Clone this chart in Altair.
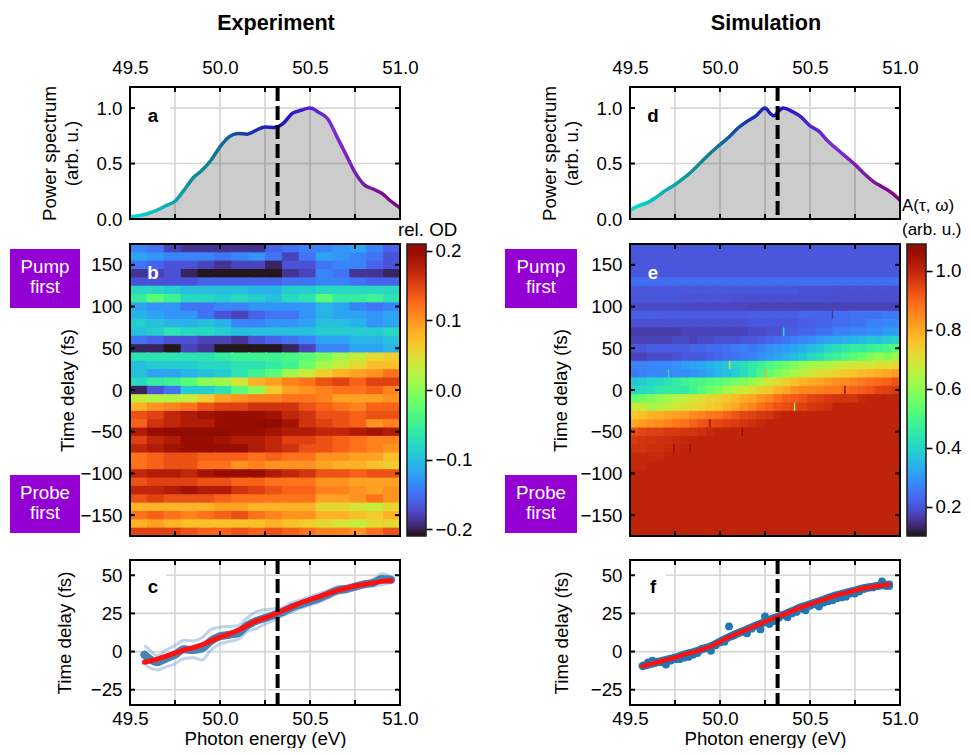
import numpy as np
import pandas as pd
import altair as alt

FONT = "Liberation Sans"
W = 270
H_TOP = 132
H_MAP = 292
H_BOT = 145
FS = 18.7

E_DOM = [49.5, 51.0]
TAU_DOM = [-175, 175]
E_TICKS = [49.75, 50.0, 50.25, 50.5, 50.75]
E_LABELS = [49.5, 50.0, 50.5, 51.0]
PS_TICKS = [0.5, 1.0]
TAU_TICKS = [-150, -100, -50, 0, 50, 100, 150]
DELAY_TICKS = [-25, 0, 25, 50]
CENTER = 50.32

# Spectra
spec_e = [49.5, 49.55, 49.6, 49.65, 49.7, 49.75, 49.8, 49.85, 49.9, 49.95, 50.0, 50.05, 50.1, 50.15, 50.2, 50.25,
          50.3, 50.35, 50.4, 50.45, 50.5, 50.55, 50.6, 50.65, 50.7, 50.75, 50.8, 50.85, 50.9, 50.95, 51.0]
spec_a = [.02, .03, .05, .08, .12, .16, .26, .37, .44, .53, .65, .74, .77, .765, .80, .83,
          .825, .86, .95, .98, 1.0, .96, .90, .74, .58, .42, .31, .27, .23, .16, .10]
sim_e = [49.5, 49.55, 49.6, 49.65, 49.7, 49.75, 49.8, 49.85, 49.9, 49.95, 50.0, 50.05, 50.1, 50.15, 50.2, 50.25,
         50.28, 50.3, 50.33, 50.35, 50.4, 50.45, 50.5, 50.55, 50.6, 50.65, 50.7, 50.75, 50.8, 50.85, 50.9, 50.95, 51.0]
spec_d = [.08, .12, .15, .20, .26, .31, .37, .44, .52, .60, .67, .74, .82, .88, .93, 1.0,
          .95, .93, .98, 1.0, .97, .92, .84, .79, .70, .63, .56, .49, .41, .34, .29, .24, .17]

# Panel c
c_e = [49.58, 49.6, 49.65, 49.7, 49.75, 49.8, 49.85, 49.9, 49.95, 50.0, 50.05, 50.1, 50.15, 50.2, 50.25, 50.3,
       50.35, 50.4, 50.45, 50.5, 50.55, 50.6, 50.65, 50.7, 50.75, 50.8, 50.85, 50.9, 50.95]
c_mean = [-2, -4, -7, -4.5, -2, 1.5, 1, 2, 7, 10, 11, 12, 17, 20, 22, 24, 26, 29, 31, 33, 35, 37.5, 40, 41, 42.5, 44, 45, 47.5, 47]
c_up = [4, 2, -2.5, 1, 4, 7.5, 7, 9, 14.5, 16, 16.5, 17, 22, 26, 27.5, 28, 29, 32, 34, 36, 38, 40, 42.5, 43, 44, 45.5, 47, 51, 49]
c_lo = [-7, -10, -12, -10, -8, -4.5, -4, -5.5, 1, 5, 6.5, 8, 13, 15, 18, 20.5, 23.5, 26, 28.5, 30.5, 32.5, 35, 38, 39, 41, 43, 43, 44, 45]
c_fit_e = [49.58, 49.65, 49.7, 49.75, 49.8, 49.85, 49.9, 49.95, 50.0, 50.05, 50.1, 50.15, 50.2, 50.25, 50.3, 50.35,
           50.4, 50.45, 50.5, 50.55, 50.6, 50.65, 50.7, 50.75, 50.8, 50.85, 50.9, 50.95]
c_fit = [-7, -5, -3, -1, 1, 2.5, 4.5, 7, 9.5, 11.5, 14, 17, 20, 22, 24.5, 27, 29.5, 32, 34, 36, 38, 40, 41.5, 43, 44, 45, 46, 46.5]

# Panel f
f_e = [49.575, 49.6, 49.625, 49.65, 49.675, 49.7, 49.725, 49.75, 49.775, 49.8, 49.825, 49.85, 49.875, 49.9, 49.925,
       49.95, 49.975, 50.0, 50.025, 50.05, 50.075, 50.1, 50.125, 50.15, 50.175, 50.2, 50.225, 50.25, 50.275, 50.3,
       50.325, 50.35, 50.375, 50.4, 50.425, 50.45, 50.475, 50.5, 50.525, 50.55, 50.575, 50.6, 50.625, 50.65, 50.675,
       50.7, 50.725, 50.75, 50.775, 50.8, 50.825, 50.85, 50.875, 50.9, 50.925, 50.94]
f_pts = [-9, -7, -6, -6.5, -7, -8.5, -6, -5, -5, -4, -3.5, -2, -1, 2, 2.5, 0.5, 4, 6, 6.5, 16.5, 10.5, 12, 13, 12,
         15, 17, 14.5, 23, 18, 20, 22, 24, 22.5, 25, 26, 28, 27, 30, 31, 29.5, 32, 33, 33.5, 35, 35.5, 36,
         38, 38, 39.5, 41, 42, 42, 43, 46, 43, 43]
f_fit_e = [49.57, 49.65, 49.7, 49.75, 49.8, 49.85, 49.9, 49.95, 50.0, 50.05, 50.1, 50.15, 50.2, 50.25, 50.3, 50.35,
           50.4, 50.45, 50.5, 50.55, 50.6, 50.65, 50.7, 50.75, 50.8, 50.85, 50.9, 50.94]
f_fit = [-9.5, -7, -5.5, -4, -2, -.5, 1.5, 3.5, 6.5, 9.5, 12, 14.5, 17, 19.5, 22, 24, 26.5, 29, 31, 33, 35, 37, 38.5, 40, 41.5, 42.5, 43.5, 44]

# Heat maps: rows from +170 fs to -170 fs across 49.5-51 eV (rows may hold 16 or 32 cells)
tau_rows = [170, 160, 150, 140, 130, 120, 110, 100, 90, 80, 70, 60, 50, 40, 30, 20, 10, 0, -10, -20, -30, -40, -50,
            -60, -70, -80, -90, -100, -110, -120, -130, -140, -150, -160, -170]
map_b = [
    [-.14, -.15, -.18, -.19, -.19, -.19, -.19, -.19, -.16, -.15, -.14, -.14, -.13, -.12, -.14, -.16],
    [-.12, -.13, -.14, -.14, -.14, -.15, -.14, -.13, -.15, -.18, -.15, -.12, -.13, -.14, -.15, -.17],
    [-.15, -.16, -.17, -.17, -.18, -.19, -.18, -.18, -.20, -.17, -.17, -.15, -.14, -.14, -.16, -.17],
    [-.19, -.18, -.17, -.20, -.21, -.21, -.21, -.21, -.21, -.19, -.18, -.14, -.15, -.19, -.19, -.20],
    [-.17, -.17, -.17, -.17, -.16, -.16, -.16, -.16, -.16, -.15, -.15, -.14, -.14, -.15, -.16, -.16],
    [-.08, -.08, -.09, -.10, -.10, -.10, -.10, -.11, -.11, -.09, -.09, -.08, -.08, -.08, -.08, -.08],
    [-.06, -.03, -.05, -.08, -.08, -.09, -.08, -.09, -.10, -.08, -.07, -.03, -.06, -.06, -.05, -.07],
    [-.12, -.13, -.13, -.15, -.15, -.14, -.14, -.13, -.13, -.13, -.13, -.11, -.12, -.14, -.15, -.14],
    [-.11, -.12, -.13, -.13, -.15, -.17, -.18, -.16, -.15, -.15, -.13, -.11, -.12, -.12, -.13, -.12],
    [-.09, -.10, -.11, -.11, -.10, -.11, -.14, -.14, -.13, -.13, -.12, -.10, -.10, -.11, -.13, -.12],
    [-.10, -.09, -.07, -.08, -.08, -.09, -.10, -.10, -.10, -.10, -.10, -.09, -.09, -.09, -.09, -.08],
    [-.15, -.16, -.17, -.17, -.18, -.18, -.19, -.17, -.16, -.15, -.14, -.12, -.12, -.11, -.11, -.10],
    [-.20, -.20, -.21, -.18, -.19, -.21, -.21, -.21, -.21, -.20, -.18, -.14, -.14, -.12, -.12, -.11],
    [-.07, -.07, -.07, -.07, -.07, -.06, -.05, -.05, -.05, -.04, -.03, -.01, .01, .03, .05, .06],
    [-.10, -.09, -.09, -.09, -.08, -.08, -.07, -.07, -.06, -.05, -.02, .01, .03, .05, .07, .07],
    [-.10, -.12, -.12, -.11, -.10, -.09, -.07, -.05, -.03, .01, .03, .06, .08, .09, .10, .12],
    [-.08, -.06, -.05, -.03, .00, .01, .04, .08, .09, .11, .12, .14, .15, .13, .15, .15],
    [-.20, -.17, -.15, -.09, -.09, -.07, -.03, .00, .06, .09, .10, .11, .12, .12, .13, .11],
    [.03, .02, .02, .03, .06, .09, .10, .11, .11, .12, .12, .11, .09, .09, .09, .10],
    [.08, .10, .11, .12, .14, .15, .15, .16, .16, .16, .14, .13, .12, .11, .13, .13],
    [.14, .15, .17, .18, .19, .20, .20, .20, .19, .17, .16, .14, .14, .13, .14, .14],
    [.13, .16, .17, .18, .18, .20, .20, .21, .21, .19, .16, .15, .14, .13, .10, .11],
    [.18, .20, .21, .21, .21, .21, .20, .20, .19, .18, .18, .17, .17, .18, .19, .18],
    [.15, .17, .18, .20, .20, .19, .18, .18, .17, .15, .15, .14, .13, .12, .11, .11],
    [.17, .18, .19, .20, .20, .20, .20, .18, .17, .16, .14, .14, .13, .12, .11, .10],
    [.12, .13, .14, .14, .13, .13, .13, .12, .13, .12, .12, .10, .10, .09, .09, .07],
    [.12, .13, .14, .14, .12, .12, .10, .11, .10, .10, .10, .09, .08, .08, .07, .06],
    [.17, .18, .18, .17, .19, .20, .20, .20, .18, .17, .16, .14, .14, .13, .14, .14],
    [.14, .15, .15, .15, .14, .14, .13, .13, .12, .12, .12, .10, .10, .09, .09, .09],
    [.17, .17, .18, .19, .18, .18, .16, .15, .14, .13, .13, .11, .11, .10, .09, .10],
    [.14, .15, .14, .14, .14, .13, .12, .12, .12, .12, .12, .09, .09, .10, .12, .10],
    [.08, .08, .08, .08, .08, .09, .09, .08, .08, .08, .08, .05, .05, .04, .03, .05],
    [.12, .13, .12, .11, .12, .13, .14, .12, .11, .10, .10, .08, .08, .07, .06, .08],
    [.08, .09, .08, .07, .07, .07, .07, .07, .08, .07, .06, .05, .04, .03, .05, .05],
    [.15, .15, .15, .14, .13, .13, .14, .13, .14, .13, .12, .11, .11, .10, .12, .14],
]
map_e = [
    [.20] * 16, [.20] * 16, [.20] * 16, [.20] * 16,
    [.235] * 16,
    [.20, .20, .20, .20, .20, .20, .20, .20, .20, .20, .195, .195, .19, .19, .19, .19],
    [.20, .20, .20, .195, .195, .195, .19, .19, .19, .19, .19, .19, .185, .185, .185, .185],
    [.18, .18, .18, .175, .175, .175, .175, .17, .17, .17, .17, .17, .17, .17, .17, .17],
    [.21, .21, .205, .205, .205, .205, .205, .21, .21, .21, .22, .22, .23, .24, .24, .25],
    [.19, .19, .19, .19, .19, .19, .19, .20, .20, .20, .21, .22, .23, .24, .26, .27],
    [.16, .16, .16, .17, .17, .17, .17, .18, .19, .21, .22, .24, .26, .27, .28, .30],
    [.17, .17, .17, .17, .17, .18, .18, .17, .18, .18, .19, .19, .19, .20, .20, .21, .22, .23, .24, .26, .27, .28, .30, .31, .32, .33, .34, .35, .37, .36, .38, .40],
    [.20, .20, .21, .21, .21, .21, .21, .22, .22, .23, .23, .24, .25, .26, .25, .26, .28, .29, .30, .32, .33, .35, .37, .40, .42, .44, .46, .45, .47, .48, .50, .52],
    [.17, .17, .18, .18, .18, .19, .20, .20, .20, .21, .22, .23, .24, .25, .26, .28, .30, .31, .33, .35, .37, .40, .42, .45, .47, .50, .52, .55, .58, .60, .58, .62],
    [.26, .26, .26, .27, .27, .28, .30, .31, .32, .33, .35, .37, .40, .42, .45, .47, .50, .52, .55, .57, .60, .62, .63, .64, .66, .67, .68, .69, .68, .70, .70, .72],
    [.25, .26, .27, .27, .27, .28, .28, .29, .30, .32, .34, .36, .38, .41, .45, .49, .53, .57, .60, .63, .65, .68, .70, .71, .72, .74, .75, .77, .78, .79, .80, .82],
    [.37, .38, .40, .41, .43, .45, .48, .49, .50, .51, .52, .54, .56, .58, .60, .64, .68, .71, .73, .76, .78, .79, .80, .82, .83, .84, .85, .87, .88, .89, .90, .92],
    [.40, .41, .42, .44, .45, .45, .45, .48, .52, .55, .58, .62, .65, .68, .70, .73, .75, .78, .80, .83, .85, .85, .86, .87, .87, .89, .90, .91, .92, .94, .95, .96],
    [.53, .55, .58, .60, .62, .64, .66, .68, .70, .72, .73, .75, .77, .79, .80, .83, .85, .88, .90, .91, .92, .94, .95, .96, .97, .97, .97, .99, 1.0, 1.0, 1.0, 1.0],
    [.68, .66, .62, .64, .66, .68, .70, .71, .72, .74, .75, .78, .80, .83, .85, .88, .90, .92, .93, .94, .95, .96, .97, .98, 1.0, 1.0, 1.0, 1.0, 1.0, 1.0, 1.0, 1.0],
    [.75, .76, .78, .79, .80, .81, .82, .84, .85, .87, .88, .90, .92, .94, .95, .96, .97, .99, 1.0, 1.0, 1.0, 1.0, 1.0, 1.0, 1.0, 1.0, 1.0, 1.0, 1.0, 1.0, 1.0, 1.0],
    [.80, .82, .83, .84, .85, .87, .88, .90, .92, .93, .94, .95, .96, .97, .98, .99, 1.0, 1.0, 1.0, 1.0, 1.0, 1.0, 1.0, 1.0, 1.0, 1.0, 1.0, 1.0, 1.0, 1.0, 1.0, 1.0],
    [.93, .94, .95, .95, .96, .96, .97, .97, .98, .99, 1.0, 1.0, 1.0, 1.0, 1.0, 1.0, 1.0, 1.0, 1.0, 1.0, 1.0, 1.0, 1.0, 1.0, 1.0, 1.0, 1.0, 1.0, 1.0, 1.0, 1.0, 1.0],
    [.96, .97, .97, .98, .98, .99, .99, 1.0, 1.0, 1.0, 1.0, 1.0, 1.0, 1.0, 1.0, 1.0, 1.0, 1.0, 1.0, 1.0, 1.0, 1.0, 1.0, 1.0, 1.0, 1.0, 1.0, 1.0, 1.0, 1.0, 1.0, 1.0],
    [.97, .98, .99, 1.0, 1.0, 1.0, 1.0, 1.0, 1.0, 1.0, 1.0, 1.0, 1.0, 1.0, 1.0, 1.0],
    [.99, .99, 1.0, 1.0, 1.0, 1.0, 1.0, 1.0, 1.0, 1.0, 1.0, 1.0, 1.0, 1.0, 1.0, 1.0],
    [.99, 1.0, 1.0, 1.0, 1.0, 1.0, 1.0, 1.0, 1.0, 1.0, 1.0, 1.0, 1.0, 1.0, 1.0, 1.0],
    [1.0] * 16, [1.0] * 16, [1.0] * 16, [1.0] * 16, [1.0] * 16, [1.0] * 16, [1.0] * 16, [1.0] * 16,
]
# thin stripes in the simulated map
spike_e = [50.35, 50.05, 50.25, 50.41, 49.71, 50.62, 49.74, 49.83, 50.12, 50.69, 49.94]
spike_t = [70, 30, 20, -20, 20, 90, -70, -70, -50, 0, -40]
spike_v = [.42, .72, .80, .55, .42, .15, 1.09, 1.09, 1.08, 1.07, 1.08]

sx = alt.Scale(domain=E_DOM, nice=False, zero=False)


def one(**kw):
    return alt.Chart(pd.DataFrame({k: [v] for k, v in kw.items()}))


def pix_text(text, x, y, size=FS, color="black", weight="normal", align="center"):
    return one(t=text).mark_text(font=FONT, fontSize=size, color=color, fontWeight=weight, align=align,
                                 baseline="middle").encode(x=alt.value(x), y=alt.value(y), text="t:N")


def pix_rect(x, x2, y, y2, color):
    return one(t=1).mark_rect(color=color).encode(x=alt.value(x), x2=alt.value(x2), y=alt.value(y), y2=alt.value(y2))


def grid_layers(yvals, sy, h):
    gv = alt.Chart(pd.DataFrame({"x": E_TICKS})).mark_rule(color="#d6d6d6", strokeWidth=1.6).encode(
        x=alt.X("x:Q", scale=sx, axis=None), y=alt.value(0), y2=alt.value(h))
    gh = alt.Chart(pd.DataFrame({"y": yvals})).mark_rule(color="#d6d6d6", strokeWidth=1.6).encode(
        y=alt.Y("y:Q", scale=sy, axis=None), x=alt.value(0), x2=alt.value(W))
    return [gv, gh]


def tick_layers(yvals, sy, h):
    xd = pd.DataFrame({"x": E_TICKS})
    yd = pd.DataFrame({"y": yvals})
    mk = dict(color="black", strokeWidth=2)
    xe = alt.X("x:Q", scale=sx, axis=None)
    ye = alt.Y("y:Q", scale=sy, axis=None)
    return [
        alt.Chart(xd).mark_rule(**mk).encode(x=xe, y=alt.value(0), y2=alt.value(5)),
        alt.Chart(xd).mark_rule(**mk).encode(x=xe, y=alt.value(h - 5), y2=alt.value(h)),
        alt.Chart(yd).mark_rule(**mk).encode(y=ye, x=alt.value(0), x2=alt.value(5)),
        alt.Chart(yd).mark_rule(**mk).encode(y=ye, x=alt.value(W - 5), x2=alt.value(W)),
    ]


def frame(h):
    return one(t=1).mark_rect(fillOpacity=0, stroke="black", strokeWidth=2).encode(
        x=alt.value(0), x2=alt.value(W), y=alt.value(0), y2=alt.value(h))


def dashed(h):
    return one(e=CENTER).mark_rule(color="black", strokeWidth=4, strokeDash=[14, 5]).encode(
        x=alt.X("e:Q", scale=sx, axis=None), y=alt.value(0), y2=alt.value(h))


GRAD = alt.Gradient(gradient="linear", x1=0, x2=1, y1=0, y2=0, stops=[
    alt.GradientStop(color="#00dcdc", offset=0),
    alt.GradientStop(color="#0f9aa0", offset=0.2),
    alt.GradientStop(color="#0f7f8e", offset=0.3),
    alt.GradientStop(color="#1838b0", offset=0.43),
    alt.GradientStop(color="#1a14c0", offset=0.55),
    alt.GradientStop(color="#7a2ad8", offset=0.75),
    alt.GradientStop(color="#7a1a9e", offset=0.88),
    alt.GradientStop(color="#7f007f", offset=1),
])


def spectrum(energy, power, label, extra, box_w):
    sy = alt.Scale(domain=[0, 1.19], nice=False, zero=False)
    df = pd.DataFrame({"e": energy, "p": power})
    holder = alt.Chart(df).mark_point(opacity=0).encode(
        x=alt.X("e:Q", scale=sx, axis=alt.Axis(orient="top", values=E_LABELS, format=".1f", title=None, grid=False,
                                               tickSize=0, labelPadding=10, domain=False, labelFlush=False,
                                               labelOverlap=False)),
        y=alt.Y("p:Q", scale=sy, axis=alt.Axis(values=[0, .5, 1.0], format=".1f", tickSize=0, labelPadding=8,
                                               domain=False, grid=False, titlePadding=15, titleLineHeight=22,
                                               labelFlush=False, labelOverlap=False,
                                               title=["Power spectrum", "(arb. u.)"])))
    area = alt.Chart(df).mark_area(color="black", opacity=0.2, interpolate="monotone").encode(
        x=alt.X("e:Q", scale=sx, axis=None), y=alt.Y("p:Q", scale=sy, axis=None))
    line = alt.Chart(df).mark_line(stroke=GRAD, strokeWidth=3.5, interpolate="monotone").encode(
        x=alt.X("e:Q", scale=sx, axis=None), y=alt.Y("p:Q", scale=sy, axis=None))
    return alt.layer(holder, *grid_layers(PS_TICKS, sy, H_TOP), pix_rect(1, box_w, 14, 44, "white"), area, line,
                     dashed(H_TOP), *tick_layers([.5, 1.0], sy, H_TOP), frame(H_TOP),
                     pix_text(label, 23, 29, weight="bold"), *extra).resolve_axis(
        x="independent", y="independent").properties(width=W, height=H_TOP)


def heat(matrix, dom, cb_vals, cb_fmt, label, box_l, box_r, title_pad, spikes=None):
    rows = []
    # neighbours overlap slightly: later cells paint over the overlap, so no seams show
    for t, row in zip(tau_rows, matrix):
        cols = np.linspace(E_DOM[0], E_DOM[1], len(row) + 1)
        for i, v in enumerate(row):
            rows.append({"x": cols[i], "x2": min(cols[i + 1] + 0.01, E_DOM[1]), "y": t + 5,
                         "y2": max(t - 6, TAU_DOM[0]), "v": v})
    df = pd.DataFrame(rows)
    st = alt.Scale(domain=TAU_DOM, nice=False, zero=False)
    col = alt.Scale(scheme="turbo", domain=dom, clamp=True)
    base = alt.Chart(df).mark_rect(strokeWidth=0).encode(
        x=alt.X("x:Q", scale=sx, axis=None), x2="x2:Q",
        y=alt.Y("y:Q", scale=st, axis=alt.Axis(values=TAU_TICKS, format="d", tickSize=0, labelPadding=8, domain=False,
                                               grid=False, title="Time delay (fs)", titlePadding=title_pad,
                                               labelFlush=False, labelOverlap=False)),
        y2="y2:Q",
        color=alt.Color("v:Q", scale=col, legend=None))
    layers = [base]
    if spikes:
        sd = pd.DataFrame({"x": spikes[0], "t": spikes[1], "v": spikes[2]})
        sd["x2"] = sd["x"] + 0.008
        sd["y"] = sd["t"] + 5
        sd["y2"] = sd["t"] - 5
        layers.append(alt.Chart(sd).mark_rect(strokeWidth=0).encode(
            x=alt.X("x:Q", scale=sx, axis=None), x2="x2:Q",
            y=alt.Y("y:Q", scale=st, axis=None), y2="y2:Q",
            color=alt.Color("v:Q", scale=col, legend=None)))
    # colour bar: a ramp of the same colour scale on its own value axis
    ramp = np.linspace(dom[0], dom[1], 129)
    cb = pd.DataFrame({"lo": ramp[:-1], "hi": np.minimum(ramp[:-1] + 2 * (ramp[1] - ramp[0]), dom[1])})
    cb["v"] = cb["lo"]
    s_cb = alt.Scale(domain=dom, nice=False, zero=False)
    bar = alt.Chart(cb).mark_rect(strokeWidth=0).encode(
        x=alt.value(W + 7), x2=alt.value(W + 26),
        y=alt.Y("lo:Q", scale=s_cb, axis=alt.Axis(orient="right", offset=26, values=cb_vals, format=cb_fmt, tickSize=6,
                                                  tickWidth=1.6, tickColor="black", labelPadding=3, domain=False,
                                                  grid=False, title=None, labelFlush=False, labelOverlap=False)),
        y2="hi:Q",
        color=alt.Color("v:Q", scale=col, legend=None))
    bar_frame = one(t=1).mark_rect(fillOpacity=0, stroke="#222222", strokeWidth=1.6).encode(
        x=alt.value(W + 7), x2=alt.value(W + 26), y=alt.value(0), y2=alt.value(H_MAP))
    mid = (box_l + box_r) / 2
    boxes = [
        pix_rect(box_l, box_r, 5, 64, "#9400d3"),
        pix_text("Pump", mid, 23, FS, "white"), pix_text("first", mid, 43, FS, "white"),
        pix_rect(box_l, box_r, 231, 289, "#9400d3"),
        pix_text("Probe", mid, 249, FS, "white"), pix_text("first", mid, 269, FS, "white"),
    ]
    return alt.layer(*layers, *tick_layers(TAU_TICKS, st, H_MAP), frame(H_MAP), pix_text(label, 23, 29, color="white", weight="bold"),
                     bar, bar_frame, *boxes).resolve_scale(y="independent").properties(width=W, height=H_MAP)


def delay_panel(label, layers_fn, box_w, title_pad):
    sy = alt.Scale(domain=[-35, 60], nice=False, zero=False)
    axis_holder = alt.Chart(pd.DataFrame({"e": [50.0], "d": [0.0]})).mark_point(opacity=0).encode(
        x=alt.X("e:Q", scale=sx, axis=alt.Axis(orient="bottom", values=E_LABELS, format=".1f", tickSize=0, labelPadding=4,
                                               domain=False, grid=False, title="Photon energy (eV)",
                                               titleY=33, titleBaseline="middle",
                                               labelFlush=False, labelOverlap=False)),
        y=alt.Y("d:Q", scale=sy, axis=alt.Axis(values=DELAY_TICKS, format="d", tickSize=0, labelPadding=8, domain=False,
                                               grid=False, title="Time delay (fs)", titlePadding=title_pad,
                                               labelFlush=False, labelOverlap=False)))
    return alt.layer(axis_holder, *grid_layers(DELAY_TICKS, sy, H_BOT), pix_rect(1, box_w, 14, 42, "white"),
                     *layers_fn(sy), dashed(H_BOT), *tick_layers(DELAY_TICKS, sy, H_BOT), frame(H_BOT),
                     pix_text(label, 23, 27, weight="bold")).resolve_axis(
        x="independent", y="independent").properties(width=W, height=H_BOT)


def enc(sy, yf):
    return dict(x=alt.X("e:Q", scale=sx, axis=None), y=alt.Y(f"{yf}:Q", scale=sy, axis=None))


def c_layers(sy):
    df = pd.DataFrame({"e": c_e, "m": c_mean, "u": c_up, "l": c_lo})
    fit = pd.DataFrame({"e": c_fit_e, "f": c_fit})
    band = dict(color="#6f9fcb", opacity=0.45)
    return [
        alt.Chart(df).mark_line(strokeWidth=3, interpolate="monotone", **band).encode(**enc(sy, "u")),
        alt.Chart(df).mark_line(strokeWidth=3, interpolate="monotone", **band).encode(**enc(sy, "l")),
        alt.Chart(df).mark_line(color="#4682b4", strokeWidth=8, strokeCap="round", interpolate="monotone").encode(**enc(sy, "m")),
        alt.Chart(df).mark_circle(color="#4682b4", size=55, opacity=1).encode(**enc(sy, "m")),
        alt.Chart(fit).mark_line(color="#ff1010", strokeWidth=5, strokeCap="round", interpolate="monotone").encode(**enc(sy, "f")),
    ]


def f_layers(sy):
    df = pd.DataFrame({"e": f_e, "p": f_pts})
    fit = pd.DataFrame({"e": f_fit_e, "f": f_fit})
    return [
        alt.Chart(fit).mark_line(color="#1f77b4", strokeWidth=8, strokeCap="round", interpolate="monotone").encode(**enc(sy, "f")),
        alt.Chart(df).mark_circle(color="#1f77b4", size=60, opacity=1).encode(**enc(sy, "p")),
        alt.Chart(fit).mark_line(color="#ff1010", strokeWidth=4.5, strokeCap="round", interpolate="monotone").encode(**enc(sy, "f")),
    ]


a = spectrum(spec_e, spec_a, "a",
             [pix_text("Experiment", 146, -63, 21.6, weight="bold"), pix_text("rel. OD", 268, 143, align="left")], 40)
d = spectrum(sim_e, spec_d, "d",
             [pix_text("Simulation", 136, -63, 21.6, weight="bold"), pix_text("A(τ, ω)", 272, 119, 17, align="left"),
              pix_text("(arb. u.)", 272, 143, 17, align="left")], 40)
b = heat(map_b, [-0.21, 0.21], [-0.2, -0.1, 0.0, 0.1, 0.2], ".1f", "b", -120, -50, 2)
e = heat(map_e, [0.1, 1.09], [0.2, 0.4, 0.6, 0.8, 1.0], ".1f", "e", -125, -53, 9, (spike_e, spike_t, spike_v))
c = delay_panel("c", c_layers, 36, 16)
f = delay_panel("f", f_layers, 36, 19)

left = alt.vconcat(alt.vconcat(a, b, spacing=1).resolve_scale(color="independent"), c, spacing=19).resolve_scale(color="independent")
right = alt.vconcat(alt.vconcat(d, e, spacing=5).resolve_scale(color="independent"), f, spacing=21).resolve_scale(color="independent")

chart = alt.hconcat(left, right, spacing=33).resolve_scale(color="independent").properties(
    padding={"left": 2, "top": 5, "right": 0, "bottom": 0},
    background="white",
).configure_view(stroke=None).configure_axis(
    labelFont=FONT, titleFont=FONT, labelFontSize=FS, titleFontSize=FS, labelColor="black", titleColor="black",
    titleFontWeight="normal",
).configure_concat(spacing=0)

chart.save("out.html", embed_options={"renderer": "svg", "actions": False})
